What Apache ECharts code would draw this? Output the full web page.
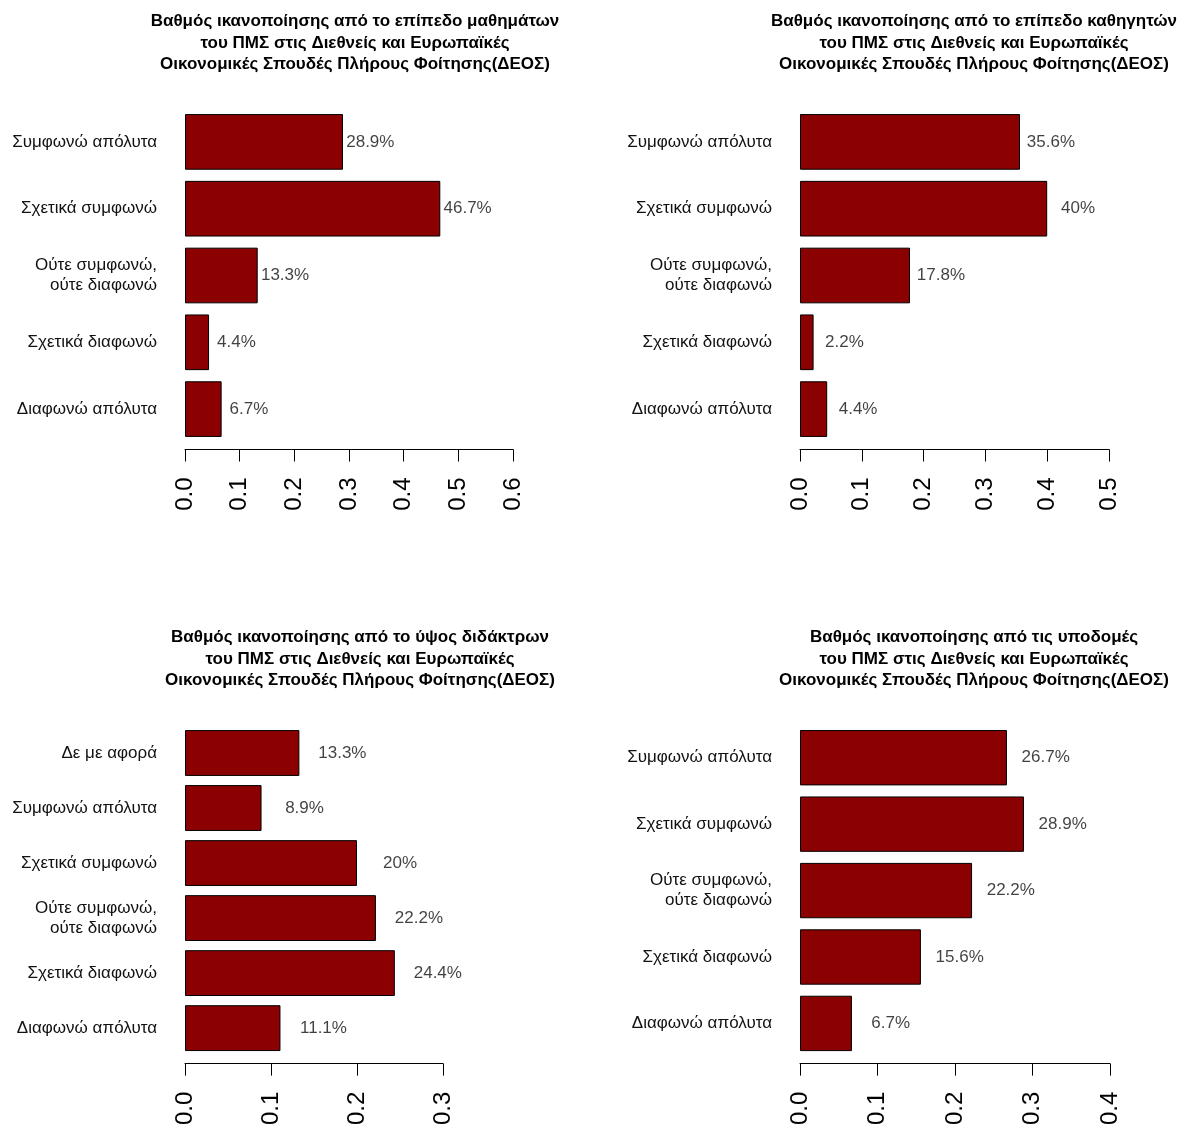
<!DOCTYPE html>
<html>
<head>
<meta charset="utf-8">
<script src="https://cdn.jsdelivr.net/npm/echarts@6/dist/echarts.min.js"></script>
<style>
html,body{margin:0;padding:0;background:#fff;}
#chart{width:1178px;height:1128px;}
</style>
</head>
<body>
<div id="chart"></div>
<script>
// ---- Data ----
const titles = [
  "Βαθμός ικανοποίησης από το επίπεδο μαθημάτων\nτου ΠΜΣ στις Διεθνείς και Ευρωπαϊκές\nΟικονομικές Σπουδές Πλήρους Φοίτησης(ΔΕΟΣ)",
  "Βαθμός ικανοποίησης από το επίπεδο καθηγητών\nτου ΠΜΣ στις Διεθνείς και Ευρωπαϊκές\nΟικονομικές Σπουδές Πλήρους Φοίτησης(ΔΕΟΣ)",
  "Βαθμός ικανοποίησης από το ύψος διδάκτρων\nτου ΠΜΣ στις Διεθνείς και Ευρωπαϊκές\nΟικονομικές Σπουδές Πλήρους Φοίτησης(ΔΕΟΣ)",
  "Βαθμός ικανοποίησης από τις υποδομές\nτου ΠΜΣ στις Διεθνείς και Ευρωπαϊκές\nΟικονομικές Σπουδές Πλήρους Φοίτησης(ΔΕΟΣ)"
];
const categories5 = ["Συμφωνώ απόλυτα", "Σχετικά συμφωνώ", "Ούτε συμφωνώ,\nούτε διαφωνώ", "Σχετικά διαφωνώ", "Διαφωνώ απόλυτα"];
const categories6 = ["Δε με αφορά", "Συμφωνώ απόλυτα", "Σχετικά συμφωνώ", "Ούτε συμφωνώ,\nούτε διαφωνώ", "Σχετικά διαφωνώ", "Διαφωνώ απόλυτα"];
const pctCourses = [28.9, 46.7, 13.3, 4.4, 6.7];
const pctProfessors = [35.6, 40, 17.8, 2.2, 4.4];
const pctFees = [13.3, 8.9, 20, 22.2, 24.4, 11.1];
const pctInfra = [26.7, 28.9, 22.2, 15.6, 6.7];
const axisMax = [0.6, 0.5, 0.3, 0.4];
const labelShift = 0.05; // label centre sits this far (in data units) right of the bar end

// ---- Layout ----
const panels = [
  {cats: categories5, pct: pctCourses, grid: {left: 185, top: 108.5, width: 328, height: 334}, titleX: 350, titleY: 6, offset: 7},
  {cats: categories5, pct: pctProfessors, grid: {left: 800, top: 108.5, width: 309, height: 334}, titleX: 969, titleY: 6, offset: 7},
  {cats: categories6, pct: pctFees, grid: {left: 185, top: 725.5, width: 258, height: 330.5}, titleX: 355, titleY: 622, offset: 8},
  {cats: categories5, pct: pctInfra, grid: {left: 800, top: 724.5, width: 310, height: 333}, titleX: 969, titleY: 622, offset: 7}
];

const FONT = 'Liberation Sans, Arial, sans-serif';
const fmt = v => (Math.round(v * 10) / 10).toString() + '%';

const option = {
  backgroundColor: '#ffffff',
  animation: false,
  title: [], grid: [], xAxis: [], yAxis: [], series: []
};

panels.forEach((p, i) => {
  option.title.push({
    text: titles[i], left: p.titleX, top: p.titleY, textAlign: 'center',
    textStyle: {fontFamily: FONT, fontSize: 17, fontWeight: 'bold', color: '#000', lineHeight: 21.5}
  });
  option.grid.push(Object.assign({containLabel: false}, p.grid));
  option.xAxis.push({
    type: 'value', gridIndex: i, min: 0, max: axisMax[i], interval: 0.1,
    position: 'bottom', offset: p.offset,
    axisLine: {show: true, lineStyle: {color: '#000', width: 1}},
    axisTick: {show: true, length: 12, lineStyle: {color: '#000', width: 1}},
    splitLine: {show: false},
    axisLabel: {rotate: 90, margin: 28, color: '#000', fontSize: 24,
      fontFamily: FONT, formatter: v => v.toFixed(1)}
  });
  option.yAxis.push({
    type: 'category', gridIndex: i, data: p.cats, inverse: true,
    axisLine: {show: false}, axisTick: {show: false}, splitLine: {show: false},
    axisLabel: {margin: 28, color: '#111', fontSize: 17, lineHeight: 20,
      fontFamily: FONT, align: 'right', padding: [3, 0, 0, 0]}
  });
  option.series.push({
    type: 'bar', xAxisIndex: i, yAxisIndex: i,
    data: p.pct.map(v => v / 100),
    barCategoryGap: '16.67%',
    itemStyle: {color: '#8B0000', borderColor: '#000', borderWidth: 1}
  });
  option.series.push({
    type: 'scatter', xAxisIndex: i, yAxisIndex: i,
    symbolSize: 0, silent: true,
    data: p.pct.map((v, k) => [v / 100 + labelShift, k]),
    label: {show: true, position: 'inside', color: '#111', fontSize: 17,
      fontFamily: FONT, padding: [3, 0, 0, 0],
      formatter: (params) => fmt(p.pct[params.dataIndex])}
  });
});

const chart = echarts.init(document.getElementById('chart'), null, {renderer: 'canvas'});
chart.setOption(option);
</script>
</body>
</html>
